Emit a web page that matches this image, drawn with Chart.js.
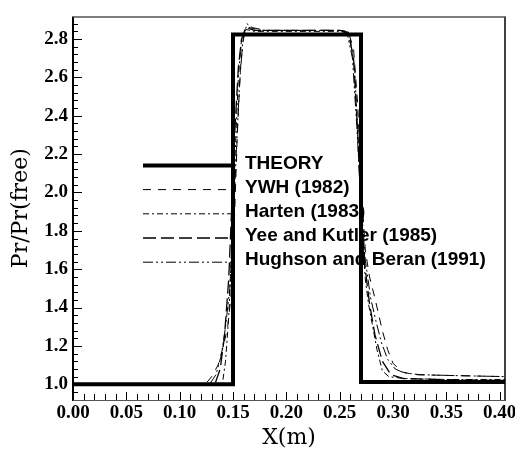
<!DOCTYPE html>
<html><head><meta charset="utf-8">
<script src="https://cdn.jsdelivr.net/npm/chart.js@4.4.1/dist/chart.umd.min.js"></script>
<style>html,body{margin:0;padding:0;background:#fff}canvas{display:block}</style>
</head><body>
<canvas id="c" width="515" height="453"></canvas>
<script>
// ---- tick labels ----
const xTickLabels = ['0.00','0.05','0.10','0.15','0.20','0.25','0.30','0.35','0.40'];
const yTickLabels = ['1.0','1.2','1.4','1.6','1.8','2.0','2.2','2.4','2.6','2.8'];
const seriesNames = ['THEORY','YWH (1982)','Harten (1983)','Yee and Kutler (1985)','Hughson and Beran (1991)'];

// ---- series values (x in m, y = Pr/Pr(free)) ----
const theoryX = [0, 0.15, 0.15, 0.27, 0.27, 0.405];
const theoryY = [1.0, 1.0, 2.823, 2.823, 1.012, 1.012];

const ywhX = [0, 0.124, 0.130, 0.136, 0.141, 0.145, 0.148, 0.151, 0.154, 0.157, 0.160, 0.165, 0.175, 0.200, 0.250, 0.258, 0.263, 0.267, 0.270, 0.274, 0.278, 0.283, 0.290, 0.295, 0.300, 0.308, 0.320, 0.360, 0.405];
const ywhY = [1.0, 1.0, 1.04, 1.10, 1.20, 1.30, 1.45, 1.80, 2.30, 2.65, 2.82, 2.86, 2.845, 2.845, 2.845, 2.84, 2.75, 2.45, 2.05, 1.70, 1.56, 1.45, 1.28, 1.18, 1.11, 1.065, 1.05, 1.045, 1.04];

const hartenX = [0, 0.140, 0.143, 0.146, 0.149, 0.152, 0.155, 0.158, 0.162, 0.170, 0.250, 0.259, 0.264, 0.268, 0.271, 0.274, 0.277, 0.281, 0.285, 0.290, 0.296, 0.310, 0.350, 0.405];
const hartenY = [1.0, 1.0, 1.12, 1.35, 1.75, 2.20, 2.60, 2.80, 2.85, 2.84, 2.84, 2.83, 2.65, 2.20, 1.80, 1.55, 1.42, 1.30, 1.18, 1.07, 1.04, 1.03, 1.025, 1.025];

const yeeX = [0, 0.133, 0.138, 0.142, 0.146, 0.149, 0.152, 0.155, 0.158, 0.162, 0.170, 0.250, 0.258, 0.263, 0.267, 0.270, 0.274, 0.278, 0.283, 0.290, 0.298, 0.310, 0.340, 0.405];
const yeeY = [1.0, 1.0, 1.08, 1.25, 1.55, 1.95, 2.35, 2.65, 2.80, 2.86, 2.845, 2.845, 2.835, 2.70, 2.30, 1.90, 1.60, 1.42, 1.26, 1.12, 1.05, 1.03, 1.025, 1.02];

const hughsonX = [0, 0.128, 0.134, 0.139, 0.143, 0.147, 0.150, 0.153, 0.156, 0.159, 0.163, 0.168, 0.180, 0.250, 0.257, 0.262, 0.266, 0.270, 0.274, 0.279, 0.284, 0.289, 0.295, 0.302, 0.310, 0.325, 0.360, 0.405];
const hughsonY = [1.0, 1.0, 1.05, 1.15, 1.30, 1.50, 1.80, 2.20, 2.55, 2.78, 2.88, 2.86, 2.845, 2.845, 2.83, 2.70, 2.35, 1.95, 1.65, 1.45, 1.33, 1.22, 1.13, 1.08, 1.06, 1.05, 1.045, 1.04];

const pairs = (xs, ys) => xs.map((x, i) => ({x, y: ys[i]}));

const styles = [
  {borderWidth: 4, borderDash: []},
  {borderWidth: 1, borderDash: [8, 7]},
  {borderWidth: 1, borderDash: [6, 3, 2, 3]},
  {borderWidth: 1.3, borderDash: [13, 5]},
  {borderWidth: 1, borderDash: [10, 3, 2, 3, 2, 3]}
];
const seriesData = [pairs(theoryX, theoryY), pairs(ywhX, ywhY), pairs(hartenX, hartenY), pairs(yeeX, yeeY), pairs(hughsonX, hughsonY)];

const datasets = seriesNames.map((name, i) => ({
  label: name,
  data: seriesData[i],
  borderColor: '#000',
  backgroundColor: '#000',
  borderWidth: styles[i].borderWidth,
  borderDash: styles[i].borderDash,
  borderCapStyle: 'butt',
  borderJoinStyle: 'miter',
  pointRadius: 0,
  tension: 0,
  fill: false,
  order: i === 0 ? 1 : 0
}));

const frameAndTicks = {
  id: 'frameAndTicks',
  afterDatasetsDraw(chart) {
    const {ctx, chartArea: a, scales: {x, y}} = chart;
    ctx.save();
    ctx.strokeStyle = '#000';
    ctx.lineWidth = 1;
    // y ticks (inward)
    const yMaj = yTickLabels.map(parseFloat);
    const yStep = yMaj[1] - yMaj[0];
    for (let k = -1; k < yMaj.length; k++) {
      const base = k < 0 ? yMaj[0] - yStep : yMaj[k];
      for (let m = 0; m < 5; m++) {
        const v = base + m * yStep / 5;
        if (v < y.min - 1e-9 || v > y.max + 1e-9) continue;
        const py = Math.round(y.getPixelForValue(v)) + 0.5;
        const len = m === 0 && k >= 0 ? 9 : 5;
        ctx.beginPath(); ctx.moveTo(a.left, py); ctx.lineTo(a.left + len, py); ctx.stroke();
      }
    }
    // x ticks (inward)
    const xMaj = xTickLabels.map(parseFloat);
    const xStep = xMaj[1] - xMaj[0];
    for (let k = 0; k < xMaj.length; k++) {
      for (let m = 0; m < 5; m++) {
        const v = xMaj[k] + m * xStep / 5;
        if (v > x.max + 1e-9) continue;
        const px = Math.round(x.getPixelForValue(v)) + 0.5;
        const len = m === 0 ? 8 : 6;
        ctx.beginPath(); ctx.moveTo(px, a.bottom); ctx.lineTo(px, a.bottom - len); ctx.stroke();
      }
    }
    // frame
    ctx.lineWidth = 2;
    ctx.beginPath(); ctx.moveTo(a.left, a.top); ctx.lineTo(a.left, a.bottom + 1); ctx.stroke();
    ctx.lineWidth = 1.5;
    ctx.beginPath(); ctx.moveTo(a.right, a.top); ctx.lineTo(a.right, a.bottom + 1); ctx.stroke();
    ctx.strokeStyle = '#555';
    ctx.beginPath(); ctx.moveTo(a.left, a.top + 0.5); ctx.lineTo(a.right, a.top + 0.5); ctx.stroke();
    ctx.lineWidth = 1;
    ctx.beginPath(); ctx.moveTo(a.left, a.bottom + 0.5); ctx.lineTo(a.right, a.bottom + 0.5); ctx.stroke();
    ctx.restore();
  }
};

const innerLegend = {
  id: 'innerLegend',
  beforeDatasetsDraw(chart) {
    const {ctx, chartArea: a} = chart;
    ctx.save();
    ctx.font = 'bold 19px "Liberation Sans", Arial, sans-serif';
    ctx.textBaseline = 'middle';
    ctx.fillStyle = '#000';
    chart.data.datasets.forEach((ds, i) => {
      const yy = a.top + 148 + i * 24.2;
      ctx.strokeStyle = '#000';
      ctx.lineWidth = ds.borderWidth;
      ctx.setLineDash(ds.borderDash || []);
      ctx.lineCap = 'butt';
      ctx.beginPath(); ctx.moveTo(a.left + 70, yy + 1); ctx.lineTo(a.left + 159, yy + 1); ctx.stroke();
      ctx.setLineDash([]);
      ctx.fillText(ds.label, a.left + 172, yy - 1);
    });
    ctx.restore();
  }
};

const tickFont = {family: '"Liberation Serif", "Times New Roman", serif', size: 19, weight: 'bold'};

new Chart(document.getElementById('c'), {
  type: 'line',
  data: {datasets},
  options: {
    responsive: false,
    animation: false,
    devicePixelRatio: 1,
    layout: {padding: {top: 10, right: 10, left: 0, bottom: 0}},
    plugins: {legend: {display: false}, tooltip: {enabled: false}},
    scales: {
      x: {
        type: 'linear',
        min: 0, max: 0.405,
        grid: {display: false, drawTicks: false},
        border: {display: false},
        afterBuildTicks: s => { s.ticks = xTickLabels.map(t => ({value: parseFloat(t)})); },
        afterFit: s => { s.height = 53; s.paddingLeft = 0; s.paddingRight = 0; },
        ticks: {
          autoSkip: false, maxRotation: 0, padding: 2, color: '#000',
          font: tickFont,
          callback: (v, i) => xTickLabels[i]
        },
        title: {display: true, text: 'X(m)', color: '#000', padding: {top: 2, bottom: 2},
          font: {family: '"DejaVu Serif", serif', size: 22}}
      },
      y: {
        type: 'linear',
        min: 0.918, max: 2.918,
        grid: {display: false, drawTicks: false},
        border: {display: false},
        afterBuildTicks: s => { s.ticks = yTickLabels.map(t => ({value: parseFloat(t)})); },
        afterFit: s => { s.width = 73; },
        ticks: {
          autoSkip: false, padding: 5, color: '#000',
          font: tickFont,
          callback: (v, i) => yTickLabels[i]
        },
        title: {display: true, text: 'Pr/Pr(free)', color: '#000', padding: {top: 8, bottom: 8},
          font: {family: '"DejaVu Serif", serif', size: 22}}
      }
    }
  },
  plugins: [innerLegend, frameAndTicks]
});
</script>
</body></html>
